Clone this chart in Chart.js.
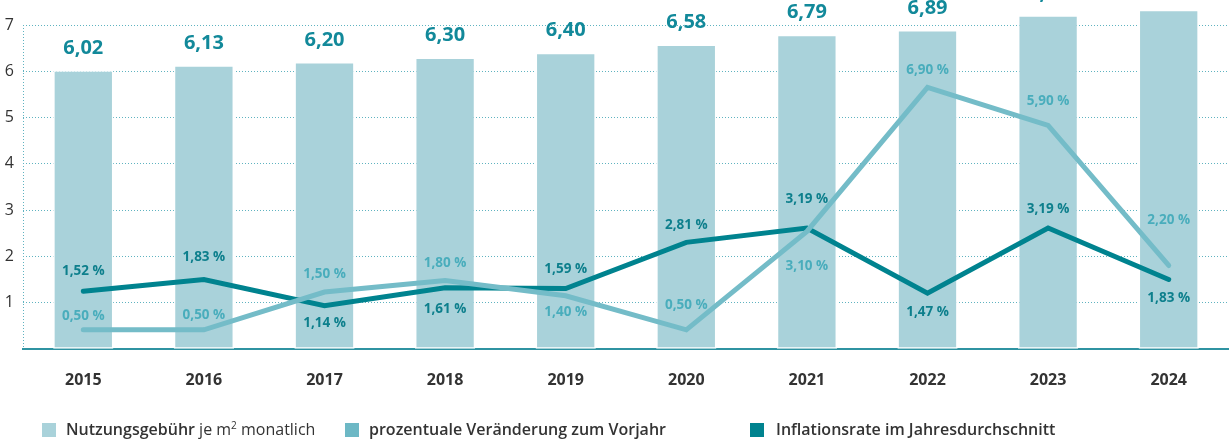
<!DOCTYPE html>
<html>
<head>
<meta charset="utf-8">
<script src="https://cdn.jsdelivr.net/npm/chart.js@4"></script>
<style>
  html, body { margin: 0; padding: 0; background: #fff; }
  #wrap { position: relative; width: 1229px; height: 440px; overflow: hidden; }
  #legend { position: absolute; left: 0; top: 419px; width: 1229px; height: 20px;
    font: 16px "Open Sans", sans-serif; color: #333; }
  #legend span.item { position: absolute; top: 0; white-space: nowrap; line-height: 20px; }
  #legend i { display: inline-block; width: 14px; height: 14px; vertical-align: -2px; margin-right: 10px; }
  #legend b { font-weight: 600; }
  #legend sup { font-size: 10px; vertical-align: 6px; line-height: 0; }
</style>
</head>
<body>
<div id="wrap">
  <canvas id="chart" width="1229" height="440"></canvas>
  <div id="legend">
    <span class="item" style="left:42px"><i style="background:#a9d2da"></i><b>Nutzungsgebühr</b> je m<sup>2</sup> monatlich</span>
    <span class="item" style="left:345px"><i style="background:#6db8c5"></i><b>prozentuale Veränderung zum Vorjahr</b></span>
    <span class="item" style="left:750px"><i style="background:#00838f;margin-right:12px"></i><b>Inflationsrate im Jahresdurchschnitt</b></span>
  </div>
</div>
<script>
const years = ["2015", "2016", "2017", "2018", "2019", "2020", "2021", "2022", "2023", "2024"];
const fees = [6.02, 6.13, 6.20, 6.30, 6.40, 6.58, 6.79, 6.89, 7.21, 7.33];
const changePct = [0.50, 0.50, 1.50, 1.80, 1.40, 0.50, 3.10, 6.90, 5.90, 2.20];
const inflation = [1.52, 1.83, 1.14, 1.61, 1.59, 2.81, 3.19, 1.47, 3.19, 1.83];
const yTicks = [1, 2, 3, 4, 5, 6, 7];

// label placement (pixels relative to the point)
const changeLabelShift = [-14, -15, -18, -17, 16, -25, 35, -17, -24, -45];
const inflationLabelShift = [-20, -22, 18, 21, -19, -17, -29, 19, -19, 19];

const fmt = (v, d) => v.toFixed(d).replace(".", ",");

const valueLabels = {
    id: "valueLabels",
    afterDatasetsDraw(chart) {
        const ctx = chart.ctx;
        ctx.save();
        ctx.textAlign = "center";
        ctx.textBaseline = "middle";

        const bars = chart.getDatasetMeta(0).data;
        ctx.font = "bold 20px 'Open Sans'";
        ctx.fillStyle = "#12899a";
        bars.forEach((b, i) => ctx.fillText(fmt(fees[i], 2), b.x, b.y - 22));

        ctx.font = "bold 13.5px 'Open Sans'";
        const inf = chart.getDatasetMeta(1).data;
        ctx.fillStyle = "#0d7f8c";
        inf.forEach((p, i) => ctx.fillText(fmt(inflation[i], 2) + " %", p.x, p.y + inflationLabelShift[i]));

        const chg = chart.getDatasetMeta(2).data;
        ctx.fillStyle = "#49adbc";
        chg.forEach((p, i) => ctx.fillText(fmt(changePct[i], 2) + " %", p.x, p.y + changeLabelShift[i]));
        ctx.restore();
    }
};

new Chart(document.getElementById("chart"), {
    data: {
        labels: years,
        datasets: [
            {
                type: "bar",
                label: "Nutzungsgebühr je m² monatlich",
                data: fees,
                backgroundColor: "#a9d2da",
                borderColor: "#ffffff",
                borderWidth: 1.5,
                borderSkipped: false,
                barPercentage: 0.5,
                categoryPercentage: 1,
                clip: false,
                order: 3,
                yAxisID: "y"
            },
            {
                type: "line",
                label: "Inflationsrate im Jahresdurchschnitt",
                data: inflation,
                borderColor: "#00838f",
                borderWidth: 5,
                borderCapStyle: "round",
                pointRadius: 0,
                tension: 0,
                order: 2,
                yAxisID: "y2"
            },
            {
                type: "line",
                label: "prozentuale Veränderung zum Vorjahr",
                data: changePct,
                borderColor: "#74bcc8",
                borderWidth: 5,
                borderCapStyle: "round",
                pointRadius: 0,
                tension: 0,
                order: 1,
                yAxisID: "y2"
            }
        ]
    },
    options: {
        responsive: false,
        animation: false,
        layout: { padding: { top: 25, right: 0, bottom: 28, left: 0 } },
        plugins: {
            legend: { display: false },
            tooltip: { enabled: false }
        },
        scales: {
            x: {
                offset: true,
                grid: {
                    offset: true,
                    drawTicks: false,
                    color: c => c.index === 0 ? "#5fb3c0" : "rgba(0,0,0,0)",
                    lineWidth: 1
                },
                border: { display: true, color: "#2f93a2", width: 2, dash: [1, 2] },
                ticks: {
                    padding: 22,
                    color: "#333",
                    font: { family: "'Open Sans'", size: 16, weight: "bold" }
                }
            },
            y: {
                min: 0,
                max: 7,
                afterFit: s => { s.width = 23; },
                afterBuildTicks: s => { s.ticks = yTicks.map(v => ({ value: v })); },
                grid: { drawTicks: false, color: "#5fb3c0", lineWidth: 1 },
                border: { display: false, dash: [1, 2] },
                ticks: {
                    padding: 9,
                    color: "#333",
                    font: { family: "'Open Sans'", size: 16 }
                }
            },
            y2: {
                display: false,
                min: 0,
                max: 8.55
            }
        }
    },
    plugins: [valueLabels]
});
</script>
</body>
</html>
